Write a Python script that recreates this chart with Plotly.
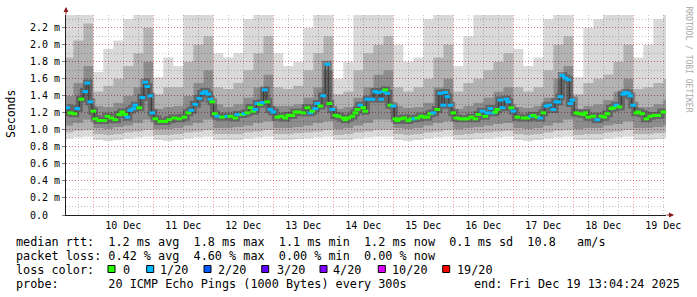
import plotly.graph_objects as go
import pandas as pd

# ---------------- data ----------------
# median rtt readings: hours after 2025-12-10 00:00, median value (ms), pings lost of 20
med_hours = [
    -10.4, -9.2, -7.6, -6.4, -4.8, -3.2, -2.4, -1.2, 0.0, 0.8,
    2.4, 4.4, 5.6, 7.2, 8.8, 10.4, 11.6, 12.8, 13.6, 14.8,
    16.0, 16.8, 18.4, 19.6, 20.8, 21.6, 22.8, 23.6, 24.8, 26.8,
    28.8, 30.4, 32.4, 34.4, 36.4, 38.0, 39.2, 40.8, 42.4, 43.6,
    44.8, 46.0, 46.8, 47.6, 48.6, 49.6, 51.6, 53.6, 54.8, 56.8,
    57.6, 59.6, 60.4, 61.6, 62.8, 64.0, 64.8, 65.6, 66.8, 67.6,
    68.6, 69.6, 70.8, 72.0, 73.6, 75.2, 76.8, 78.0, 79.6, 80.8,
    82.0, 84.0, 85.6, 86.8, 87.6, 88.8, 89.6, 90.8, 92.0, 93.6,
    94.4, 95.6, 96.8, 98.0, 100.0, 100.8, 102.0, 103.6, 104.8, 105.6,
    106.8, 108.0, 108.8, 109.6, 111.6, 112.8, 114.0, 115.2, 116.0, 116.8,
    117.6, 118.8, 120.0, 120.8, 121.6, 123.2, 124.4, 126.0, 127.2, 128.4,
    129.6, 131.2, 132.4, 133.6, 134.8, 136.0, 137.6, 138.8, 140.0, 140.8,
    141.6, 142.8, 144.0, 145.2, 146.8, 148.4, 149.6, 151.2, 152.8, 154.0,
    155.6, 156.8, 157.6, 158.8, 160.0, 160.8, 161.6, 162.8, 163.6, 165.2,
    166.0, 167.2, 168.0, 169.6, 172.0, 173.6, 175.2, 176.0, 177.6, 178.8,
    180.0, 181.2, 182.4, 184.0, 185.2, 186.0, 186.8, 187.6, 188.8, 190.0,
    190.8, 191.6, 193.2, 194.4, 196.0, 196.8, 198.0, 200.0, 201.6, 203.2,
    204.4, 205.6, 207.2, 208.0, 209.2, 210.4, 212.0, 212.8, 214.0, 214.8,
    216.0, 217.2, 218.0, 219.6, 221.2, 222.8, 224.4, 226.0, 228.0, 228.9,
]
med_ms = [
    1.26, 1.20, 1.19, 1.25, 1.36, 1.45, 1.55, 1.33, 1.22, 1.13,
    1.11, 1.11, 1.16, 1.14, 1.12, 1.18, 1.21, 1.18, 1.15, 1.23,
    1.25, 1.29, 1.26, 1.38, 1.56, 1.51, 1.40, 1.20, 1.13, 1.10,
    1.10, 1.12, 1.14, 1.13, 1.15, 1.20, 1.23, 1.30, 1.37, 1.43,
    1.45, 1.42, 1.36, 1.33, 1.19, 1.16, 1.15, 1.16, 1.16, 1.14,
    1.18, 1.18, 1.19, 1.20, 1.26, 1.22, 1.24, 1.31, 1.30, 1.32,
    1.47, 1.33, 1.24, 1.21, 1.15, 1.16, 1.14, 1.17, 1.17, 1.21,
    1.21, 1.20, 1.26, 1.20, 1.22, 1.25, 1.31, 1.28, 1.40, 1.77,
    1.31, 1.24, 1.17, 1.16, 1.14, 1.12, 1.14, 1.16, 1.20, 1.24,
    1.29, 1.26, 1.22, 1.36, 1.36, 1.45, 1.44, 1.36, 1.45, 1.47,
    1.43, 1.29, 1.28, 1.13, 1.11, 1.13, 1.14, 1.11, 1.13, 1.13,
    1.14, 1.16, 1.15, 1.15, 1.19, 1.20, 1.24, 1.43, 1.29, 1.44,
    1.39, 1.29, 1.20, 1.14, 1.13, 1.13, 1.13, 1.15, 1.13, 1.18,
    1.22, 1.16, 1.20, 1.25, 1.20, 1.21, 1.24, 1.35, 1.26, 1.36,
    1.33, 1.26, 1.22, 1.15, 1.14, 1.14, 1.16, 1.17, 1.15, 1.14,
    1.20, 1.28, 1.29, 1.24, 1.33, 1.33, 1.39, 1.64, 1.61, 1.59,
    1.31, 1.35, 1.20, 1.19, 1.18, 1.20, 1.15, 1.16, 1.12, 1.16,
    1.15, 1.19, 1.25, 1.26, 1.29, 1.27, 1.42, 1.44, 1.43, 1.40,
    1.29, 1.20, 1.21, 1.19, 1.13, 1.16, 1.17, 1.17, 1.21, 1.21,
]
med_loss = [
    1, 0, 0, 1, 0, 1, 1, 1, 0, 0,
    0, 0, 0, 0, 0, 0, 0, 0, 1, 1,
    1, 1, 0, 1, 1, 1, 1, 1, 0, 0,
    0, 0, 0, 0, 0, 0, 1, 1, 1, 1,
    1, 1, 1, 0, 0, 1, 0, 1, 0, 0,
    1, 0, 1, 0, 0, 0, 1, 1, 0, 1,
    1, 0, 1, 1, 0, 0, 0, 0, 0, 0,
    0, 0, 0, 1, 0, 1, 1, 0, 1, 1,
    0, 1, 0, 0, 0, 0, 0, 0, 0, 0,
    1, 0, 0, 1, 1, 1, 1, 1, 1, 0,
    1, 0, 1, 0, 0, 0, 0, 0, 0, 1,
    0, 0, 0, 0, 0, 1, 0, 1, 1, 1,
    1, 1, 0, 0, 0, 0, 0, 0, 0, 0,
    1, 0, 1, 1, 1, 0, 0, 1, 1, 1,
    1, 0, 1, 0, 0, 0, 1, 0, 0, 1,
    0, 1, 1, 1, 1, 1, 1, 1, 1, 1,
    1, 1, 0, 0, 0, 0, 0, 0, 1, 0,
    0, 0, 0, 0, 1, 0, 1, 1, 1, 1,
    1, 0, 0, 0, 0, 0, 0, 0, 0, 0,
]

# smoke: 4-hour bins starting 2025-12-09 12:00 (hours after Dec 10 00:00)
smoke_bin_hours = list(range(-12, 229, 4))
smoke_lo = [
    0.90, 0.91, 0.92, 0.88, 0.87, 0.88, 0.90, 0.91, 0.92, 0.88,
    0.87, 0.88, 0.90, 0.91, 0.92, 0.88, 0.88, 0.88, 0.90, 0.91,
    0.92, 0.88, 0.88, 0.89, 0.90, 0.91, 0.92, 0.88, 0.88, 0.90,
    0.91, 0.92, 0.92, 0.88, 0.87, 0.88, 0.90, 0.91, 0.92, 0.88,
    0.88, 0.89, 0.90, 0.91, 0.92, 0.88, 0.87, 0.88, 0.90, 0.91,
    0.92, 0.88, 0.88, 0.88, 0.90, 0.91, 0.92, 0.88, 0.88, 0.89,
    0.90,
]
smoke_p10 = [
    0.97, 0.99, 1.00, 0.95, 0.94, 0.95, 0.97, 0.98, 1.00, 0.94,
    0.94, 0.95, 0.97, 0.98, 1.00, 0.95, 0.95, 0.95, 0.97, 0.98,
    1.00, 0.95, 0.95, 0.96, 0.97, 0.98, 1.00, 0.94, 0.95, 0.97,
    0.98, 1.00, 1.00, 0.95, 0.94, 0.95, 0.97, 0.98, 1.00, 0.94,
    0.95, 0.96, 0.97, 0.98, 0.99, 0.95, 0.94, 0.95, 0.97, 0.99,
    1.00, 0.94, 0.95, 0.95, 0.97, 0.98, 1.00, 0.95, 0.95, 0.96,
    0.97,
]
smoke_p25 = [
    1.05, 1.08, 1.12, 1.02, 1.01, 1.03, 1.05, 1.08, 1.12, 1.01,
    1.01, 1.02, 1.05, 1.08, 1.12, 1.02, 1.02, 1.03, 1.05, 1.08,
    1.10, 1.02, 1.02, 1.03, 1.05, 1.08, 1.10, 1.01, 1.02, 1.05,
    1.08, 1.12, 1.12, 1.02, 1.01, 1.02, 1.05, 1.08, 1.10, 1.01,
    1.02, 1.03, 1.05, 1.07, 1.08, 1.02, 1.01, 1.02, 1.05, 1.08,
    1.12, 1.01, 1.02, 1.02, 1.05, 1.07, 1.10, 1.02, 1.02, 1.03,
    1.05,
]
smoke_p75 = [
    1.40, 1.55, 1.75, 1.28, 1.27, 1.32, 1.40, 1.50, 1.80, 1.25,
    1.27, 1.28, 1.40, 1.55, 1.70, 1.30, 1.27, 1.30, 1.38, 1.50,
    1.65, 1.28, 1.28, 1.30, 1.38, 1.50, 1.70, 1.25, 1.27, 1.38,
    1.50, 1.65, 1.70, 1.28, 1.26, 1.27, 1.32, 1.50, 1.60, 1.25,
    1.28, 1.32, 1.38, 1.45, 1.50, 1.27, 1.26, 1.28, 1.38, 1.60,
    1.75, 1.25, 1.28, 1.30, 1.35, 1.45, 1.60, 1.27, 1.27, 1.30,
    1.35,
]
smoke_p90 = [
    1.85, 2.05, 2.25, 1.45, 1.52, 1.60, 1.75, 1.90, 2.20, 1.42,
    1.50, 1.50, 1.80, 2.00, 2.10, 1.50, 1.48, 1.55, 1.70, 1.90,
    2.10, 1.50, 1.48, 1.52, 1.70, 1.90, 2.10, 1.42, 1.45, 1.70,
    1.90, 2.00, 2.10, 1.50, 1.45, 1.50, 1.60, 1.85, 2.00, 1.45,
    1.55, 1.60, 1.70, 1.80, 1.90, 1.50, 1.45, 1.50, 1.70, 2.00,
    2.10, 1.42, 1.55, 1.60, 1.65, 1.80, 2.00, 1.48, 1.50, 1.55,
    1.60,
]
smoke_hi = [
    2.40, 2.40, 2.40, 1.68, 1.95, 2.05, 2.30, 2.35, 2.40, 1.62,
    1.85, 1.75, 2.35, 2.40, 2.40, 1.90, 1.85, 1.90, 2.30, 2.40,
    2.40, 1.90, 1.75, 1.80, 2.20, 2.40, 2.40, 1.60, 1.80, 2.35,
    2.40, 2.40, 2.40, 2.00, 1.80, 1.85, 2.30, 2.40, 2.40, 1.75,
    2.10, 2.35, 2.35, 2.40, 2.40, 1.95, 1.75, 1.85, 2.30, 2.40,
    2.40, 1.62, 2.20, 2.30, 2.35, 2.40, 2.40, 1.85, 2.00, 2.30,
    2.35,
]

day_labels = ["10 Dec", "11 Dec", "12 Dec", "13 Dec", "14 Dec",
              "15 Dec", "16 Dec", "17 Dec", "18 Dec", "19 Dec"]
y_ticks = [0.0, 0.2, 0.4, 0.6, 0.8, 1.0, 1.2, 1.4, 1.6, 1.8, 2.0, 2.2]

loss_levels = [0, 1, 2, 3, 4, 10, 19]
loss_labels = ["0", "1/20", "2/20", "3/20", "4/20", "10/20", "19/20"]
loss_colors = ["#26ff00", "#00b8ff", "#0059ff", "#5e00ff", "#7e00ff", "#dd00ff", "#ff0000"]

legend_lines = [
    "median rtt:  1.2 ms avg  1.8 ms max  1.1 ms min  1.2 ms now  0.1 ms sd  10.8   am/s",
    "packet loss: 0.42 % avg  4.60 % max  0.00 % min  0.00 % now",
    "loss color:",
    "probe:       20 ICMP Echo Pings (1000 Bytes) every 300s",
]
end_text = "end: Fri Dec 19 13:04:24 2025"
y_title = "Seconds"
credit = "RRDTOOL / TOBI OETIKER"

# ---------------- build ----------------
base = pd.Timestamp("2025-12-10 00:00:00")
t_start = pd.Timestamp("2025-12-09 13:04:24")
t_end = pd.Timestamp("2025-12-19 13:04:24")

med_t = [base + pd.Timedelta(hours=h) for h in med_hours]
bin_t = [base + pd.Timedelta(hours=h) for h in smoke_bin_hours]
bin_t_ext = bin_t + [bin_t[-1] + pd.Timedelta(hours=4)]


def ext(a):
    return list(a) + [a[-1]]


def loss_color(n):
    c = loss_colors[0]
    for lvl, col in zip(loss_levels, loss_colors):
        if n >= lvl:
            c = col
    return c


MONO = "DejaVu Sans Mono"
L1 = "rgba(0,0,0,0.15)"
L2 = "rgba(0,0,0,0.30)"
L3 = "rgba(0,0,0,0.45)"

fig = go.Figure()
band_specs = [(smoke_lo, None), (smoke_p10, L1), (smoke_p25, L2),
              (smoke_p75, L3), (smoke_p90, L2), (smoke_hi, L1)]
for arr, col in band_specs:
    fig.add_trace(go.Scatter(
        x=bin_t_ext, y=ext(arr), mode="lines",
        line=dict(width=0, shape="hv", color="rgba(0,0,0,0)"),
        fill="tonexty" if col else None,
        fillcolor=col, hoverinfo="skip", showlegend=False))

# dark core of the smoke around the median
fig.add_trace(go.Scatter(x=med_t, y=med_ms, mode="lines",
                         line=dict(width=7, shape="hvh", color="rgba(0,0,0,0.28)"),
                         hoverinfo="skip", showlegend=False))
fig.add_trace(go.Scatter(x=med_t, y=med_ms, mode="lines",
                         line=dict(width=1, shape="hvh", color="#383838"),
                         hoverinfo="skip", showlegend=False))
fig.add_trace(go.Scatter(
    x=med_t, y=med_ms, mode="markers",
    marker=dict(symbol="line-ew", size=4,
                line=dict(width=3, color=[loss_color(n) for n in med_loss])),
    showlegend=False))

grid_major = "rgba(255,0,0,0.38)"
grid_minor = "rgba(150,150,150,0.55)"
dash = "1px,2px"

fig.update_layout(
    width=697, height=297,
    margin=dict(l=66, r=31, t=15, b=82),
    paper_bgcolor="white", plot_bgcolor="white",
    showlegend=False,
    xaxis=dict(
        type="date", range=[t_start, t_end],
        tick0="2025-12-10", dtick=86400000,
        showgrid=True, gridcolor=grid_major, griddash=dash, gridwidth=1,
        minor=dict(dtick=21600000, tick0="2025-12-10", showgrid=True,
                   gridcolor=grid_minor, griddash=dash, gridwidth=1),
        showticklabels=False, ticks="",
        showline=True, linecolor="#202020", linewidth=1,
        zeroline=False,
    ),
    xaxis2=dict(
        type="date", range=[t_start, t_end], overlaying="x", anchor="y",
        side="bottom",
        tickvals=[base + pd.Timedelta(days=i, hours=12) for i in range(len(day_labels))],
        ticktext=day_labels, ticks="", showgrid=False, showline=False,
        tickfont=dict(family=MONO, size=10, color="#000000"),
        ticklabelstandoff=3,
        zeroline=False,
    ),
    yaxis=dict(
        range=[0, 2.35],
        tickvals=y_ticks,
        ticktext=[("%.1f m" % v) if v > 0 else "0.0\u00a0\u00a0" for v in y_ticks],
        tickfont=dict(family=MONO, size=10, color="#000000"),
        showgrid=True, gridcolor=grid_major, griddash=dash, gridwidth=1,
        minor=dict(dtick=0.1, tick0=0, showgrid=True,
                   gridcolor=grid_minor, griddash=dash, gridwidth=1),
        ticks="outside", ticklen=3, tickcolor="#808080",
        showline=True, linecolor="#202020", linewidth=1,
        zeroline=False,
    ),
)

# dummy trace so xaxis2 gets drawn
fig.add_trace(go.Scatter(x=[t_start], y=[None], xaxis="x2", yaxis="y",
                         showlegend=False, hoverinfo="skip"))

PW, PH = 600.0, 200.0
X0, Y0 = 66.0, 215.0


def px(x):
    return (x - X0) / PW


def py(y):
    return (Y0 - y) / PH


def nb(s):
    return s.replace(" ", "\u00a0")


ann = []
ann.append(dict(text=y_title, x=px(11), y=py(114), xref="paper", yref="paper",
                textangle=-90, showarrow=False, xanchor="center", yanchor="middle",
                font=dict(family=MONO, size=11.5, color="#000000")))
ann.append(dict(text=nb(credit), x=px(687.5), y=py(59), xref="paper", yref="paper",
                textangle=90, showarrow=False, xanchor="center", yanchor="middle",
                font=dict(family=MONO, size=8, color="#a8a8a8")))
line_y = [241.5, 255.5, 269.5, 283.5]
for s, yy in zip(legend_lines, line_y):
    ann.append(dict(text=nb(s), x=px(14), y=py(yy), xref="paper", yref="paper",
                    showarrow=False, xanchor="left", yanchor="middle",
                    font=dict(family=MONO, size=11.8, color="#000000")))
ann.append(dict(text=nb(end_text), x=px(682), y=py(line_y[3]), xref="paper", yref="paper",
                showarrow=False, xanchor="right", yanchor="middle",
                font=dict(family=MONO, size=11.8, color="#000000")))

box_x = [108, 146.7, 204, 261.7, 320, 378.3, 442.7]
lab_x = [122.8, 160, 218.3, 276.7, 333.3, 391.7, 456.7]
shapes = []
for bx, lx, lab, col in zip(box_x, lab_x, loss_labels, loss_colors):
    shapes.append(dict(type="rect", xref="paper", yref="paper",
                       x0=px(bx), x1=px(bx + 7), y0=py(272.5), y1=py(265.5),
                       fillcolor=col, line=dict(color="#000000", width=1)))
    ann.append(dict(text=nb(lab), x=px(lx - 2), y=py(line_y[2]), xref="paper", yref="paper",
                    showarrow=False, xanchor="left", yanchor="middle",
                    font=dict(family=MONO, size=11.8, color="#000000")))

# axis arrows
ann.append(dict(text="", x=0, y=py(7), xref="paper", yref="paper", showarrow=True,
                ax=0, ay=9, arrowhead=2, arrowsize=1, arrowwidth=1, arrowcolor="#8b1a1a"))
ann.append(dict(text="", x=px(674), y=0, xref="paper", yref="paper", showarrow=True,
                ax=-9, ay=0, arrowhead=2, arrowsize=1, arrowwidth=1, arrowcolor="#8b1a1a"))

fig.update_layout(annotations=ann, shapes=shapes)
fig.write_html("out.html")
